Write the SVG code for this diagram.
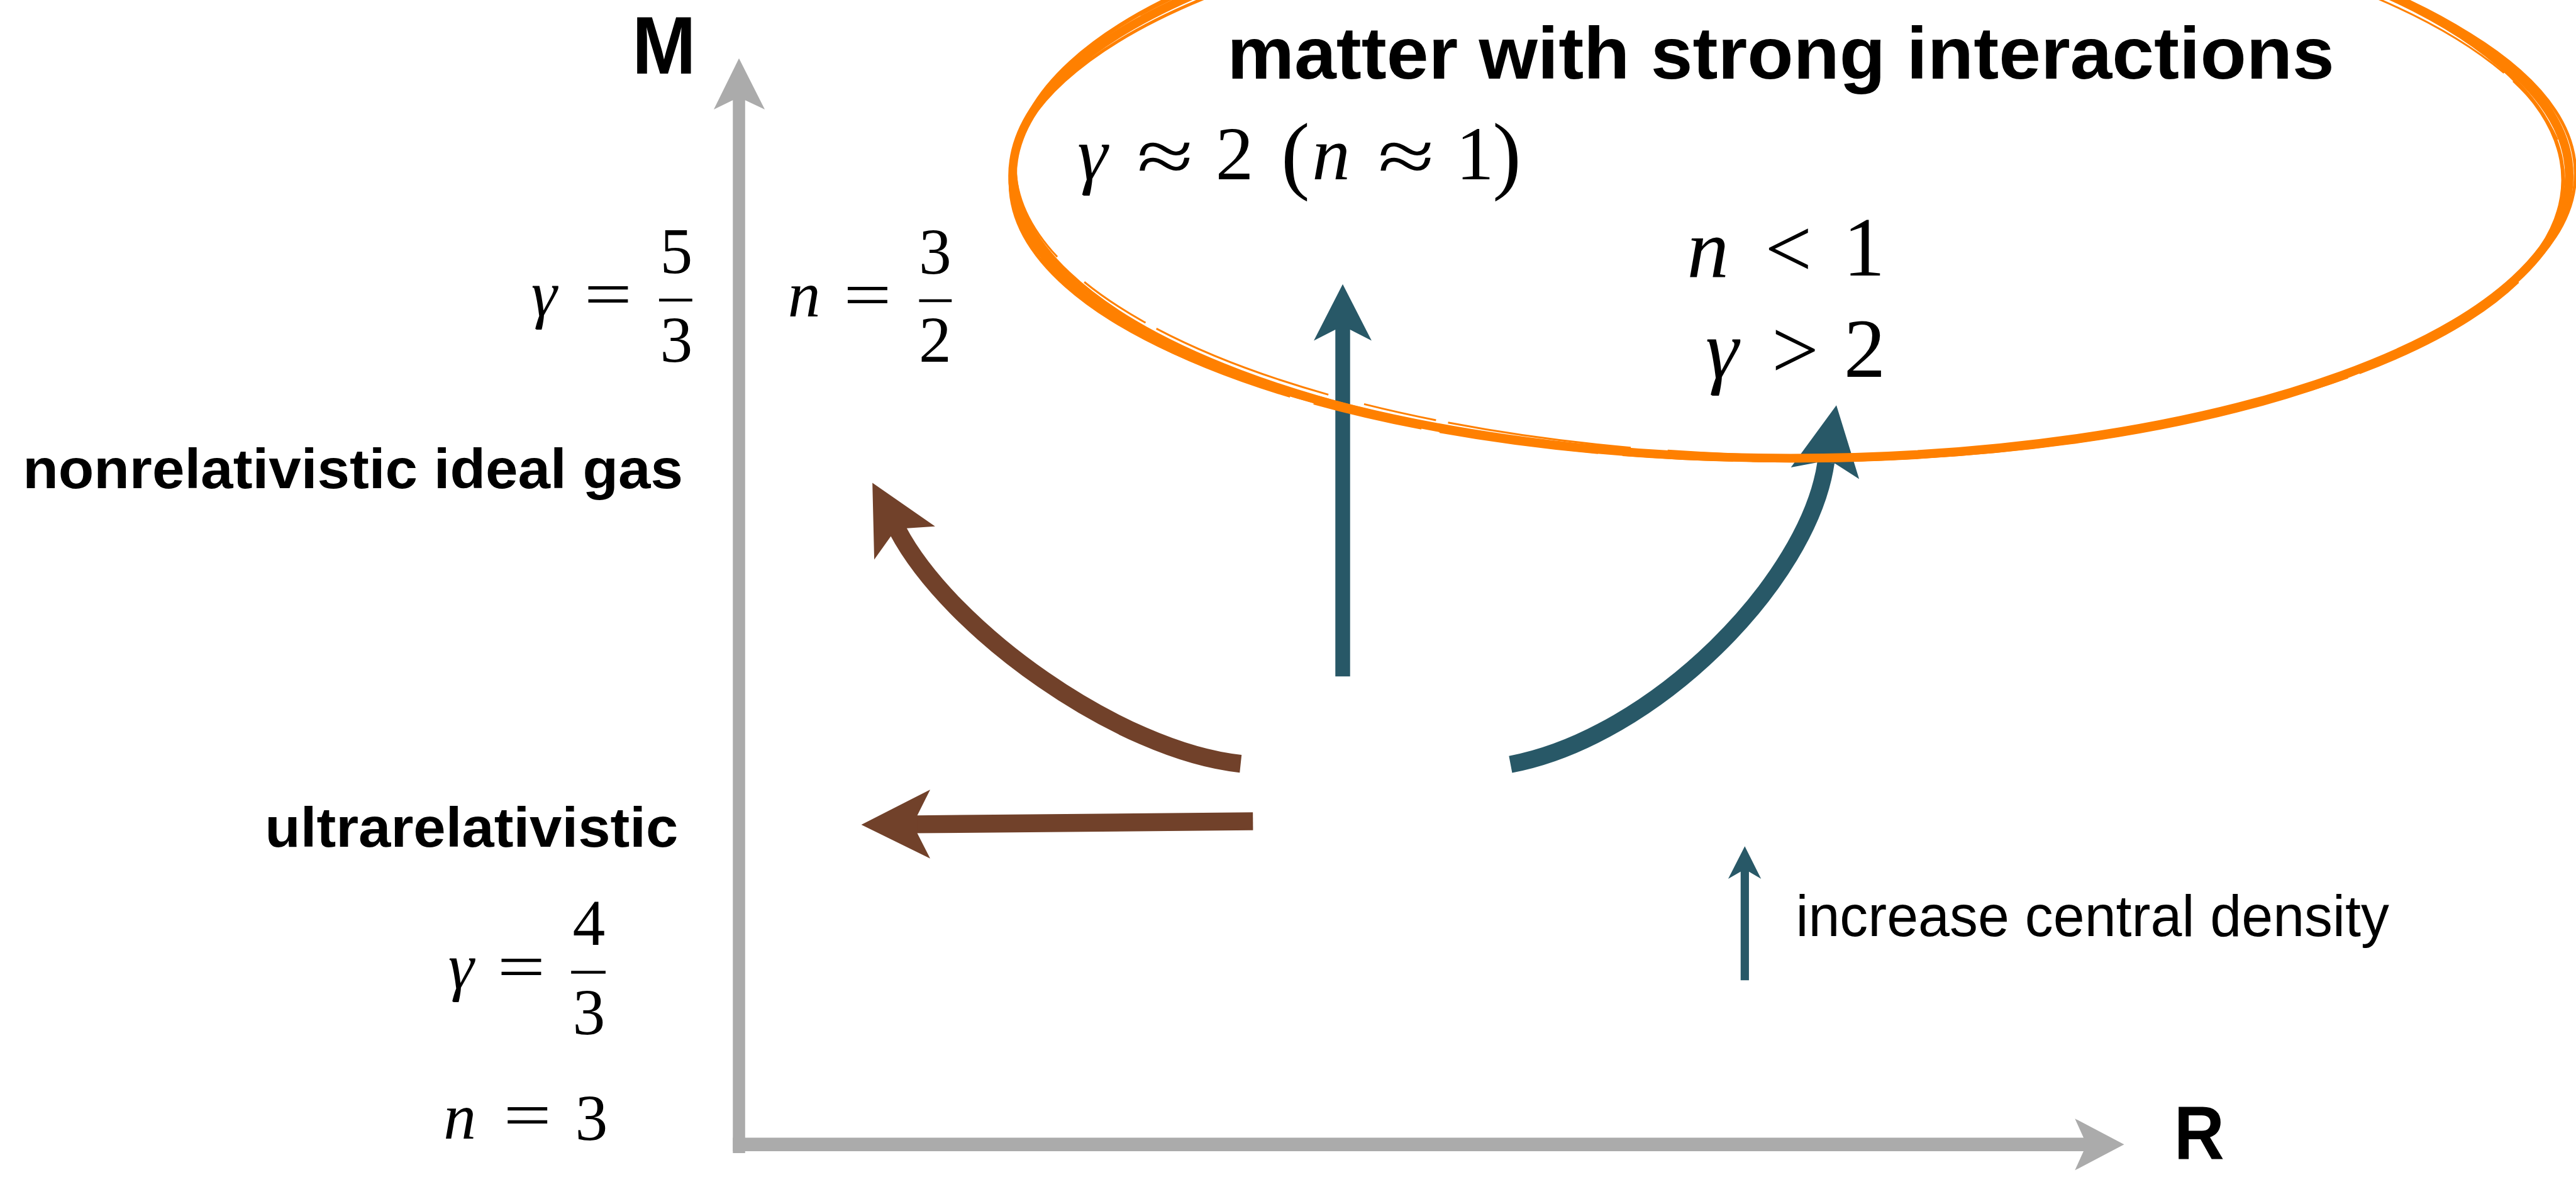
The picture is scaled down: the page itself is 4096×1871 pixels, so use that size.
<svg xmlns="http://www.w3.org/2000/svg" width="4096" height="1871" viewBox="0 0 4096 1871">
<style>
.sans{font-family:"Liberation Sans",Arial,sans-serif;fill:#000}
.b{font-weight:bold}
.m{font-family:"Liberation Serif","Times New Roman",serif;fill:#000;text-anchor:middle}
.i{font-style:italic}
.a{font-size:106px}
.bb{font-size:124px}
.c{font-size:136px}
.bar{stroke:#000;stroke-width:4.5}
.grey{fill:#ABABAB}
.greyL{stroke:#ABABAB;fill:none}
.teal{fill:#285867}
.tealL{stroke:#285867;fill:none}
.brown{fill:#71412A}
.brownL{stroke:#71412A;fill:none}
.orange{fill:none;stroke:#FF8000}
</style>
<rect width="4096" height="1871" fill="#fff"/>
<g transform="scale(0.977566)">
  <g id="connectors">
    <g id="axis-M">
      <line class="greyL" x1="1202" y1="1875" x2="1202" y2="160" stroke-width="20"/>
      <polygon class="grey" points="1202,95 1244,178 1212,163 1192,163 1161,178"/>
    </g>
    <g id="axis-R">
      <line class="greyL" x1="1192" y1="1861" x2="3392" y2="1861" stroke-width="22"/>
      <polygon class="grey" points="3455,1861 3375,1903 3389,1872 3389,1850 3375,1819"/>
    </g>
    <g id="arrow-up">
      <line class="tealL" x1="2184" y1="1100" x2="2184" y2="533" stroke-width="24"/>
      <polygon class="teal" points="2184,462 2231,554 2196,536 2172,536 2137,554"/>
    </g>
    <g id="arrow-right-curve">
      <path class="tealL" d="M2457,1243 C2690,1199 2942,945 2970,752" stroke-width="28"/>
      <polygon class="teal" points="2987,659 3024,779 2985,754 2955,752 2913,760"/>
    </g>
    <g id="arrow-left-curve">
      <path class="brownL" d="M2018,1242 C1820,1221 1546,1025 1460,862" stroke-width="29"/>
      <polygon class="brown" points="1419,785 1521,856 1475,859 1449,872 1422,910"/>
    </g>
    <g id="arrow-left">
      <line class="brownL" x1="2038" y1="1335.5" x2="1488" y2="1340.5" stroke-width="29"/>
      <polygon class="brown" points="1401,1341 1513,1284 1492,1326 1492,1355 1513,1396"/>
    </g>
    <g id="legend-arrow">
      <line class="tealL" x1="2838" y1="1594" x2="2838" y2="1414" stroke-width="13.5"/>
      <polygon class="teal" points="2838,1376 2864.5,1429 2845,1417.5 2831,1417.5 2811,1429"/>
    </g>
  </g>

  <g id="strong-interactions">
    <g id="sketch-ellipse">
      <ellipse class="orange" cx="2913" cy="286" rx="1266" ry="459" stroke-width="14"/>
      <ellipse class="orange" cx="2910" cy="283" rx="1259" ry="465" stroke-width="6" transform="rotate(0.5 2913 286)"/>
      <ellipse class="orange" cx="2916" cy="290" rx="1273" ry="453" stroke-width="5" transform="rotate(-0.4 2913 286)"/>
      <ellipse class="orange" cx="2913" cy="282" rx="1263" ry="468" stroke-width="4" transform="rotate(0.2 2913 286)"/>
      <ellipse class="orange" cx="2912" cy="288" rx="1270" ry="462" stroke-width="3" stroke-dasharray="180 40 260 30" transform="rotate(-0.2 2913 286)"/>
      <ellipse class="orange" cx="2914" cy="285" rx="1262" ry="456" stroke-width="3" stroke-dasharray="120 60 300 20" transform="rotate(0.8 2913 286)"/>
    </g>
    <text class="sans b" x="1996" y="128" font-size="119" textLength="1801" lengthAdjust="spacingAndGlyphs">matter with strong interactions</text>
  </g>

  <g id="label-M"><text class="sans b" x="1028" y="120" font-size="132" textLength="104" lengthAdjust="spacingAndGlyphs">M</text></g>
  <g id="label-R"><text class="sans b" x="3536" y="1885" font-size="124" textLength="82" lengthAdjust="spacingAndGlyphs">R</text></g>

  <g id="label-nonrel"><text class="sans b" x="37" y="794" font-size="91" textLength="1074" lengthAdjust="spacingAndGlyphs">nonrelativistic ideal gas</text></g>
  <g id="label-ultrarel"><text class="sans b" x="431" y="1377" font-size="91" textLength="672" lengthAdjust="spacingAndGlyphs">ultrarelativistic</text></g>
  <g id="legend-text"><text class="sans" x="2921" y="1522" font-size="95" textLength="965" lengthAdjust="spacingAndGlyphs">increase central density</text></g>

  <g id="eq-gamma53">
    <text class="m i a" x="885" y="514">γ</text>
    <text class="m a" x="989" y="515" textLength="78" lengthAdjust="spacingAndGlyphs">=</text>
    <line class="bar" x1="1072" y1="488" x2="1126" y2="488"/>
    <text class="m a" x="1100" y="444">5</text>
    <text class="m a" x="1100" y="588">3</text>
  </g>
  <g id="eq-n32">
    <text class="m i a" x="1308" y="515">n</text>
    <text class="m a" x="1411" y="516" textLength="78" lengthAdjust="spacingAndGlyphs">=</text>
    <line class="bar" x1="1495" y1="489" x2="1548" y2="489"/>
    <text class="m a" x="1521" y="445">3</text>
    <text class="m a" x="1521" y="588">2</text>
  </g>
  <g id="eq-gamma43">
    <text class="m i a" x="750" y="1607">γ</text>
    <text class="m a" x="848" y="1608" textLength="78" lengthAdjust="spacingAndGlyphs">=</text>
    <line class="bar" x1="929" y1="1581" x2="985" y2="1581"/>
    <text class="m a" x="958" y="1536">4</text>
    <text class="m a" x="958" y="1682">3</text>
  </g>
  <g id="eq-n3">
    <text class="m i a" x="748" y="1852">n</text>
    <text class="m a" x="858" y="1850" textLength="78" lengthAdjust="spacingAndGlyphs">=</text>
    <text class="m a" x="962" y="1854">3</text>
  </g>
  <g id="eq-gamma2">
    <text class="m i bb" x="1777" y="292">γ</text>
    <text class="m bb" x="1895" y="296" textLength="92" lengthAdjust="spacingAndGlyphs">≈</text>
    <text class="m bb" x="2008" y="292">2</text>
    <text class="m" x="2107" y="298" font-size="140">(</text>
    <text class="m i bb" x="2165" y="292">n</text>
    <text class="m bb" x="2287" y="296" textLength="92" lengthAdjust="spacingAndGlyphs">≈</text>
    <text class="m bb" x="2399" y="292">1</text>
    <text class="m" x="2451" y="298" font-size="140">)</text>
  </g>
  <g id="eq-nlt1">
    <text class="m i c" x="2778" y="450">n</text>
    <text class="m c" x="2909" y="450">&lt;</text>
    <text class="m c" x="3032" y="448">1</text>
  </g>
  <g id="eq-ggt2">
    <text class="m i c" x="2801" y="615">γ</text>
    <text class="m c" x="2920" y="615">&gt;</text>
    <text class="m c" x="3033" y="613">2</text>
  </g>
</g>
</svg>
